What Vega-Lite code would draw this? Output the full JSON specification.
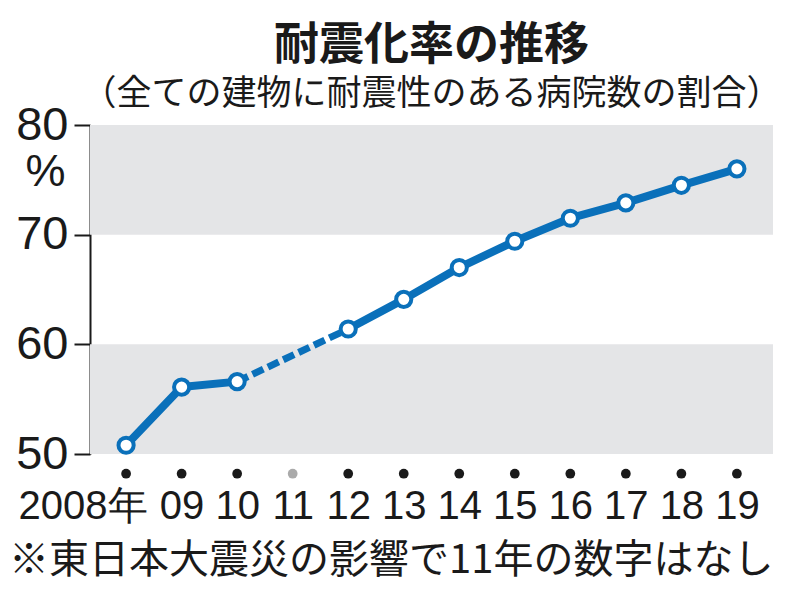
{
  "$schema": "https://vega.github.io/schema/vega-lite/v6.json",
  "width": 683,
  "height": 329,
  "autosize": {"type": "none"},
  "padding": {"left": 90, "top": 125, "right": 27, "bottom": 137},
  "background": "white",
  "title": {
    "text": "耐震化率の推移",
    "subtitle": "（全ての建物に耐震性のある病院数の割合）",
    "font": "Noto Sans CJK JP",
    "fontSize": 45,
    "fontWeight": "bold",
    "color": "#1a1a1a",
    "subtitleFont": "Noto Sans CJK JP",
    "subtitleFontSize": 35,
    "subtitleColor": "#1a1a1a",
    "anchor": "middle",
    "offset": -11,
    "subtitlePadding": 8
  },
  "datasets": {
    "bands": [
      {"lo": 50, "hi": 60},
      {"lo": 70, "hi": 80}
    ],
    "rate": [
      {"year": 2008, "value": 50.8, "period": "before"},
      {"year": 2009, "value": 56.1, "period": "before"},
      {"year": 2010, "value": 56.6, "period": "before"},
      {"year": 2012, "value": 61.4, "period": "after"},
      {"year": 2013, "value": 64.1, "period": "after"},
      {"year": 2014, "value": 67.0, "period": "after"},
      {"year": 2015, "value": 69.4, "period": "after"},
      {"year": 2016, "value": 71.5, "period": "after"},
      {"year": 2017, "value": 72.9, "period": "after"},
      {"year": 2018, "value": 74.5, "period": "after"},
      {"year": 2019, "value": 76.0, "period": "after"}
    ],
    "years": [
      {"year": 2008, "status": "data"},
      {"year": 2009, "status": "data"},
      {"year": 2010, "status": "data"},
      {"year": 2011, "status": "none"},
      {"year": 2012, "status": "data"},
      {"year": 2013, "status": "data"},
      {"year": 2014, "status": "data"},
      {"year": 2015, "status": "data"},
      {"year": 2016, "status": "data"},
      {"year": 2017, "status": "data"},
      {"year": 2018, "status": "data"},
      {"year": 2019, "status": "data"}
    ]
  },
  "layer": [
    {
      "data": {"name": "bands"},
      "mark": {"type": "rect", "color": "#e4e5e7"},
      "encoding": {
        "y": {"field": "lo", "type": "quantitative", "scale": {"domain": [50, 80], "nice": false, "zero": false}},
        "y2": {"field": "hi"}
      }
    },
    {
      "data": {"name": "rate"},
      "transform": [{"filter": "datum.year == 2010 || datum.year == 2012"}],
      "mark": {"type": "line", "color": "#0a70ba", "strokeWidth": 7, "strokeDash": [12, 5], "strokeCap": "butt"},
      "encoding": {
        "x": {"field": "year", "type": "quantitative", "scale": {"domain": [2007.35, 2019.65], "nice": false, "zero": false}},
        "y": {"field": "value", "type": "quantitative", "scale": {"domain": [50, 80], "nice": false, "zero": false}}
      }
    },
    {
      "data": {"name": "rate"},
      "mark": {"type": "line", "color": "#0a70ba", "strokeWidth": 8, "strokeJoin": "round"},
      "encoding": {
        "x": {
          "field": "year",
          "type": "quantitative",
          "scale": {"domain": [2007.35, 2019.65], "nice": false, "zero": false},
          "axis": {
            "values": [2008, 2009, 2010, 2011, 2012, 2013, 2014, 2015, 2016, 2017, 2018, 2019],
            "labelExpr": "datum.value == 2008 ? '2008年' : ((datum.value % 100) < 10 ? '0' + (datum.value % 100) : '' + (datum.value % 100))",
            "labelFont": "Liberation Sans, sans-serif",
            "labelFontSize": 40,
            "labelColor": "#1a1a1a",
            "labelPadding": 32,
            "labelAlign": {"condition": {"test": "datum.value == 2008", "value": "right"}, "value": "center"},
            "labelOffset": {"condition": {"test": "datum.value == 2008", "value": 21}, "value": 0},
            "labelOverlap": false,
            "labelFlush": false,
            "ticks": false,
            "domain": false,
            "grid": false,
            "title": "※東日本大震災の影響で11年の数字はなし",
            "titleFont": "Noto Sans CJK JP",
            "titleFontSize": 40,
            "titleFontWeight": "normal",
            "titleColor": "#1a1a1a",
            "titleAnchor": "end",
            "titlePadding": 14
          }
        },
        "y": {
          "field": "value",
          "type": "quantitative",
          "scale": {"domain": [50, 80], "nice": false, "zero": false},
          "axis": {
            "values": [50, 60, 70, 80],
            "labelFont": "Liberation Sans",
            "labelFontSize": 47,
            "labelColor": "#1a1a1a",
            "labelPadding": 6,
            "labelFlush": false,
            "labelOverlap": false,
            "tickSize": 16,
            "tickWidth": 2,
            "tickColor": "#1a1a1a",
            "domainColor": "#1a1a1a",
            "domainWidth": 2,
            "grid": false,
            "title": "%",
            "titleAngle": 0,
            "titleX": -45,
            "titleY": 46,
            "titleAlign": "center",
            "titleBaseline": "middle",
            "titleFont": "Liberation Sans",
            "titleFontSize": 45,
            "titleFontWeight": "normal",
            "titleColor": "#1a1a1a"
          }
        },
        "detail": {"field": "period"}
      }
    },
    {
      "data": {"name": "rate"},
      "mark": {"type": "point", "filled": true, "fill": "white", "stroke": "#0a70ba", "strokeWidth": 4, "size": 230, "opacity": 1},
      "encoding": {
        "x": {"field": "year", "type": "quantitative", "scale": {"domain": [2007.35, 2019.65], "nice": false, "zero": false}},
        "y": {"field": "value", "type": "quantitative", "scale": {"domain": [50, 80], "nice": false, "zero": false}}
      }
    },
    {
      "data": {"name": "years"},
      "mark": {"type": "circle", "size": 95, "opacity": 1, "clip": false},
      "encoding": {
        "x": {"field": "year", "type": "quantitative", "scale": {"domain": [2007.35, 2019.65], "nice": false, "zero": false}},
        "y": {"datum": 48.2, "type": "quantitative"},
        "color": {"field": "status", "type": "nominal", "scale": {"domain": ["data", "none"], "range": ["#1a1a1a", "#aaaaaa"]}, "legend": null}
      }
    }
  ],
  "config": {"view": {"stroke": null}}
}
